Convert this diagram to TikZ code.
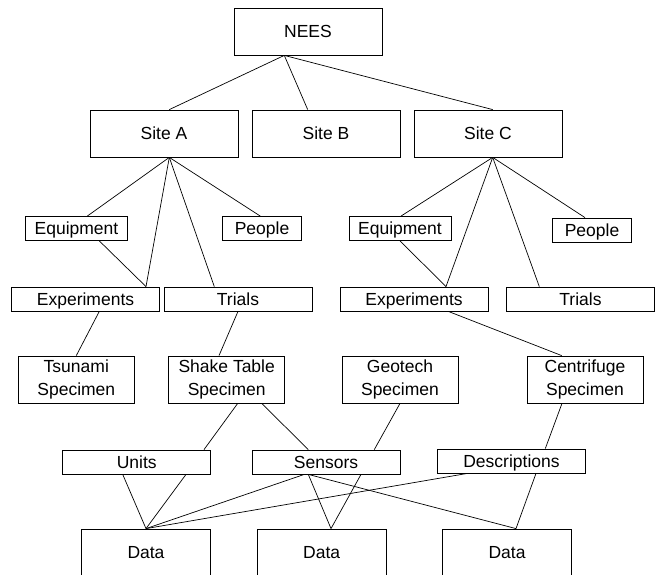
\documentclass[tikz,border=0pt]{standalone}
\usepackage{fontspec}
\setmainfont{Liberation Sans}
\usepackage{tikz}
\usetikzlibrary{arrows}

\tikzset{
    box/.style={draw, rectangle, inner sep=0pt, line width=0.8pt, align=center,
        font=\fontsize{17.5}{23}\selectfont},
    line/.style={text height=12.8pt, text depth=0pt},
    big/.style={box, line, minimum width=148pt, minimum height=47pt},
    flat/.style={box, line, minimum width=148pt, minimum height=24pt},
    spec/.style={box, minimum width=116pt, minimum height=47pt},
    datum/.style={box, line, minimum width=129pt, minimum height=46pt},
    every edge/.style={draw, line width=0.7pt}
}

\begin{document}
\begin{tikzpicture}[x=1pt,y=-1pt]
        \useasboundingbox (0,0) rectangle (662,575);
        \node[big](nees)   at (308,31.5)  {NEES};
        \node[big](siteA)  at (164,133.5) {Site A};
        \node[big](siteB)  at (326,133.5) {Site B};
        \node[big](siteC)  at (488,133.5) {Site C};
        \node[box, line, minimum width=102pt, minimum height=24pt](equipA) at (76.5,228.5) {Equipment};
        \node[box, line, minimum width=79pt,  minimum height=24pt](peopleA) at (262,228.5) {People};
        \node[box, line, minimum width=102pt, minimum height=24pt](equipC) at (400,228.5) {Equipment};
        \node[box, line, minimum width=79pt,  minimum height=24pt](peopleC) at (592,230) {People};
        \node[flat](expA)    at (85.5,299) {Experiments};
        \node[flat](trialsA) at (238,299)  {Trials};
        \node[flat](expC)    at (414,299)  {Experiments};
        \node[flat](trialsC) at (580.5,299) {Trials};
        \node[spec](tsunami) at (76.3,379.5) {Tsunami\\Specimen};
        \node[spec](shake)   at (226.7,379.5) {Shake Table\\Specimen};
        \node[spec](geotech) at (400,379.5) {Geotech\\Specimen};
        \node[spec](centri)  at (585,379.5) {Centrifuge\\Specimen};
        \node[flat](units)   at (136.7,462) {Units};
        \node[flat](sensors) at (326,462)   {Sensors};
        \node[flat](descr)   at (511.5,461) {Descriptions};
        \node[datum](dataA)  at (146,552)   {Data};
        \node[datum](dataB)  at (321.7,552) {Data};
        \node[datum](dataC)  at (507,552)   {Data};
        \path
            ([xshift=-23.7]nees.south)
                edge ([xshift=5.3]siteA.north)
                edge ([xshift=-18.3]siteB.north)
                edge ([xshift=4.7]siteC.north)
            ([xshift=5.3]siteA.south)
                edge ([xshift=10.8]equipA.north)
                edge ([xshift=60.5]expA.north)
                edge ([xshift=-23.7]trialsA.north)
                edge ([xshift=-1.7]peopleA.north)
            ([xshift=22.8]equipA.south)
                edge ([xshift=60.5]expA.north)
            ([xshift=13.8]expA.south)
                edge (tsunami.north)
            (trialsA.south)
                edge ([xshift=-7.7]shake.north)
            ([xshift=4.7]siteC.south)
                edge ([xshift=1]equipC.north)
                edge ([xshift=32]expC.north)
                edge ([xshift=-41.2]trialsC.north)
                edge ([xshift=-7]peopleC.north)
            (equipC.south)
                edge ([xshift=32]expC.north)
            ([xshift=34.3]expC.south)
                edge ([xshift=-23.3]centri.north)
            ([xshift=11]shake.south)
                edge ([xshift=67.3]units.north)
            ([xshift=35]shake.south)
                edge ([xshift=-17.7]sensors.north)
            (geotech.south)
                edge ([xshift=48.3]sensors.north)
            ([xshift=-23]centri.south)
                edge ([xshift=33.8]descr.north)
            (dataA.north)
                edge ([xshift=-14]units.south)
                edge ([xshift=49.3]units.south)
                edge ([xshift=-21.7]sensors.south)
                edge ([xshift=-44]descr.south)
            ([xshift=9.3]dataB.north)
                edge ([xshift=-17.7]sensors.south)
                edge ([xshift=35]sensors.south)
            ([xshift=9]dataC.north)
                edge ([xshift=-17.7]sensors.south)
                edge ([xshift=24.5]descr.south)
            ;
    \end{tikzpicture}
\end{document}
